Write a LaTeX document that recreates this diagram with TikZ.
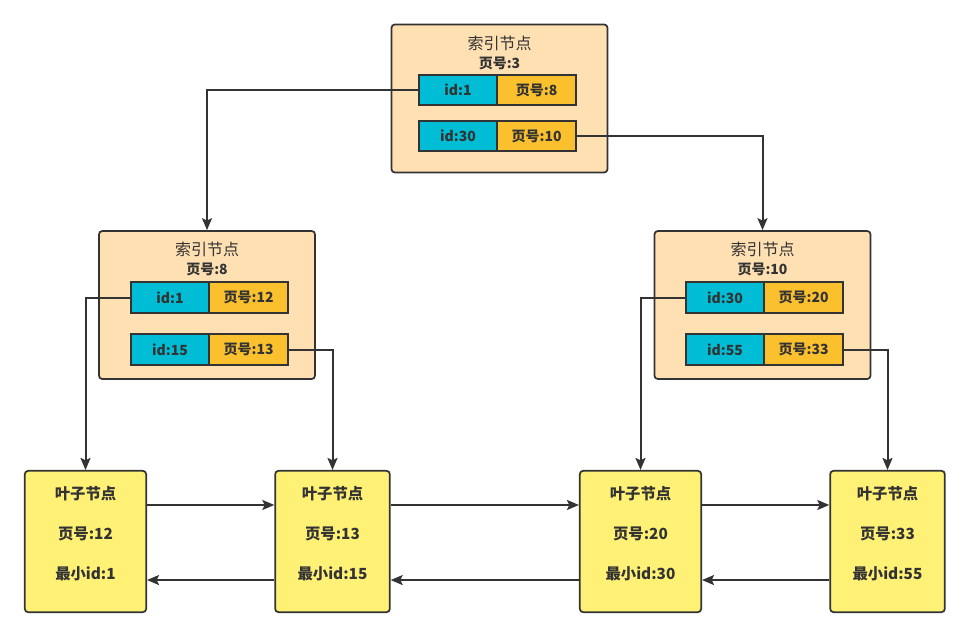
\documentclass[tikz,border=0pt]{standalone}
\usepackage{fontspec}
\setmainfont{Noto Sans CJK SC}
\usetikzlibrary{positioning,arrows.meta}
\definecolor{idxbg}{HTML}{FFE0B2}
\definecolor{idbg}{HTML}{00BCD4}
\definecolor{pgbg}{HTML}{FBC02D}
\definecolor{leafbg}{HTML}{FFF176}
\definecolor{ink}{HTML}{333333}
\tikzset{>={Stealth[length=9pt,width=7.5pt,inset=1.8pt]},
idx/.style={rectangle,draw=ink,fill=idxbg,line width=1.3pt,rounded corners=2.5pt,minimum width=162pt,minimum height=111pt},
leaf/.style={rectangle,draw=ink,fill=leafbg,line width=1.3pt,rounded corners=2.5pt,minimum height=106pt},
ttl/.style={inner sep=0pt,align=center,text=ink,font=\fontsize{12}{14}\selectfont},
ltx/.style={inner sep=0pt,align=center,text=ink,font=\bfseries\fontsize{11.5}{30}\selectfont},
cid/.style={rectangle,draw=ink,fill=idbg,line width=1.3pt,outer sep=0pt,minimum width=59pt,minimum height=23pt,text=ink,font=\bfseries\fontsize{10.5}{12}\selectfont},
cpg/.style={cid,fill=pgbg},
lk/.style={->,draw=ink,line width=1.5pt},
}
\begin{document}
\begin{tikzpicture}[x=0.75pt,y=-0.75pt]
	\useasboundingbox (0,0) rectangle (970,637);

	% index nodes
	\node[idx] (n3) at (499.5,98.5) {};
	\node[ttl,below=9pt of n3.north] (n3t) {索引节点\\{\bfseries\fontsize{10.5}{12}\selectfont 页号:3}};
	\node[cid] (n3a) at (458,90) {id:1};
	\node[cpg,right=0pt of n3a] (n3b) {页号:8};
	\node[cid] (n3c) at (458,136) {id:30};
	\node[cpg,right=0pt of n3c] (n3d) {页号:10};

	\node[idx] (n8) at (207,305) {};
	\node[ttl,below=9pt of n8.north] (n8t) {索引节点\\{\bfseries\fontsize{10.5}{12}\selectfont 页号:8}};
	\node[cid] (n8a) at (170,297.5) {id:1};
	\node[cpg,right=0pt of n8a] (n8b) {页号:12};
	\node[cid] (n8c) at (170,349.5) {id:15};
	\node[cpg,right=0pt of n8c] (n8d) {页号:13};

	\node[idx] (n10) at (762.5,305) {};
	\node[ttl,below=9pt of n10.north] (n10t) {索引节点\\{\bfseries\fontsize{10.5}{12}\selectfont 页号:10}};
	\node[cid] (n10a) at (725,297.5) {id:30};
	\node[cpg,right=0pt of n10a] (n10b) {页号:20};
	\node[cid] (n10c) at (725,349.5) {id:55};
	\node[cpg,right=0pt of n10c] (n10d) {页号:33};

	% leaf nodes
	\node[leaf,minimum width=91pt] (l12) at (85.5,541.5) {};
	\node[ltx,below=12pt of l12.north] (l12t) {叶子节点\\页号:12\\最小id:1};
	\node[leaf,minimum width=86pt] (l13) at (332.5,541.5) {};
	\node[ltx,below=12pt of l13.north] (l13t) {叶子节点\\页号:13\\最小id:15};
	\node[leaf,minimum width=91pt] (l20) at (640.5,541.5) {};
	\node[ltx,below=12pt of l20.north] (l20t) {叶子节点\\页号:20\\最小id:30};
	\node[leaf,minimum width=86pt] (l33) at (887.5,541.5) {};
	\node[ltx,below=12pt of l33.north] (l33t) {叶子节点\\页号:33\\最小id:55};

	% links
	\draw[lk] (n3a.west) -| (n8.north);
	\draw[lk] (n3d.east) -| (n10.north);
	\draw[lk] (n8a.west) -| (l12.north);
	\draw[lk] (n8d.east) -| (l13.north);
	\draw[lk] (n10a.west) -| (l20.north);
	\draw[lk] (n10d.east) -| (l33.north);

	\draw[lk] ([yshift=27.4pt]l12.east) -- ([yshift=27.4pt]l13.west);
	\draw[lk] ([yshift=-28.9pt]l13.west) -- ([yshift=-28.9pt]l12.east);
	\draw[lk] ([yshift=27.4pt]l13.east) -- ([yshift=27.4pt]l20.west);
	\draw[lk] ([yshift=-28.9pt]l20.west) -- ([yshift=-28.9pt]l13.east);
	\draw[lk] ([yshift=27.4pt]l20.east) -- ([yshift=27.4pt]l33.west);
	\draw[lk] ([yshift=-28.9pt]l33.west) -- ([yshift=-28.9pt]l20.east);
\end{tikzpicture}
\end{document}
